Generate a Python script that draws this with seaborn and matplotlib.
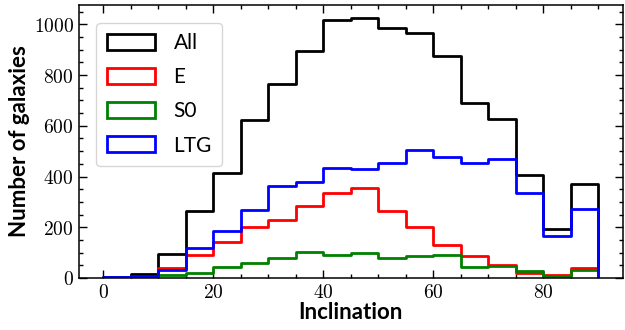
import numpy as np
import pandas as pd
import seaborn as sns
import matplotlib.pyplot as plt
from matplotlib.patches import Patch
from matplotlib.ticker import MultipleLocator, FuncFormatter

# bin edges (inclination, degrees) and counts per bin
bin_edges = list(range(0, 95, 5))
bin_centers = [b + 2.5 for b in bin_edges[:-1]]

all_counts = [2, 16, 95, 262, 413, 622, 764, 896, 1016, 1025, 986, 968, 874, 691, 625, 407, 191, 372]
e_counts = [0, 3, 38, 89, 143, 201, 230, 283, 335, 353, 264, 201, 129, 86, 50, 18, 10, 39]
s0_counts = [0, 1, 12, 20, 43, 60, 78, 103, 92, 100, 79, 88, 92, 43, 45, 26, 7, 31]
ltg_counts = [2, 8, 32, 116, 186, 267, 363, 378, 432, 428, 455, 503, 478, 455, 468, 336, 166, 271]

labels = ["All", "E", "S0", "LTG"]
colors = ["black", "red", "green", "blue"]

sns.set_style("ticks")
plt.rcParams['mathtext.fontset'] = 'cm'
plt.rcParams['font.family'] = ['Lato', 'DejaVu Sans']
plt.rcParams['text.color'] = 'black'
plt.rcParams['axes.labelcolor'] = 'black'
plt.rcParams['xtick.color'] = 'black'
plt.rcParams['ytick.color'] = 'black'

fig, ax = plt.subplots(figsize=(6.25, 3.3), dpi=100)

for counts, col in zip([all_counts, e_counts, s0_counts, ltg_counts], colors):
    df = pd.DataFrame({"inclination": bin_centers, "n": counts})
    sns.histplot(data=df, x="inclination", weights="n", bins=bin_edges, element="step",
                 fill=False, color=col, lw=2, ax=ax)
    # close the step outline down to zero at both ends, like histtype='step'
    line = ax.lines[-1]
    xs, ys = line.get_data()
    line.set_data(np.r_[xs[0], xs, xs[-1]], np.r_[0, ys, 0])

ax.set_xlim(-4.5, 94.5)
ax.set_ylim(0, 1077)
ax.xaxis.set_major_locator(MultipleLocator(20))
ax.xaxis.set_minor_locator(MultipleLocator(5))
ax.yaxis.set_major_locator(MultipleLocator(200))
ax.yaxis.set_minor_locator(MultipleLocator(50))
fmt = FuncFormatter(lambda v, p: f"${v:g}$")
ax.xaxis.set_major_formatter(fmt)
ax.yaxis.set_major_formatter(fmt)
ax.tick_params(which='both', direction='in', top=True, right=True, width=1, labelsize=14)
ax.tick_params(which='major', length=6)
ax.tick_params(which='minor', length=3)
for sp in ax.spines.values():
    sp.set_color('black')
    sp.set_linewidth(1.1)

ax.set_xlabel("Inclination", fontsize=16, fontweight='bold', labelpad=1)
ax.set_ylabel("Number of galaxies", fontsize=16, fontweight='bold', labelpad=3)

handles = [Patch(facecolor='none', edgecolor=c, lw=2, label=l) for l, c in zip(labels, colors)]
ax.legend(handles=handles, loc='upper left', fontsize=15, handlelength=2.3,
          handleheight=0.8, labelspacing=0.68, handletextpad=0.9, borderpad=0.5,
          borderaxespad=0.85, fancybox=True, framealpha=0.8, edgecolor='0.8')

fig.subplots_adjust(left=0.126, right=0.997, top=0.985, bottom=0.158)
fig.savefig("out.png", dpi=100)
